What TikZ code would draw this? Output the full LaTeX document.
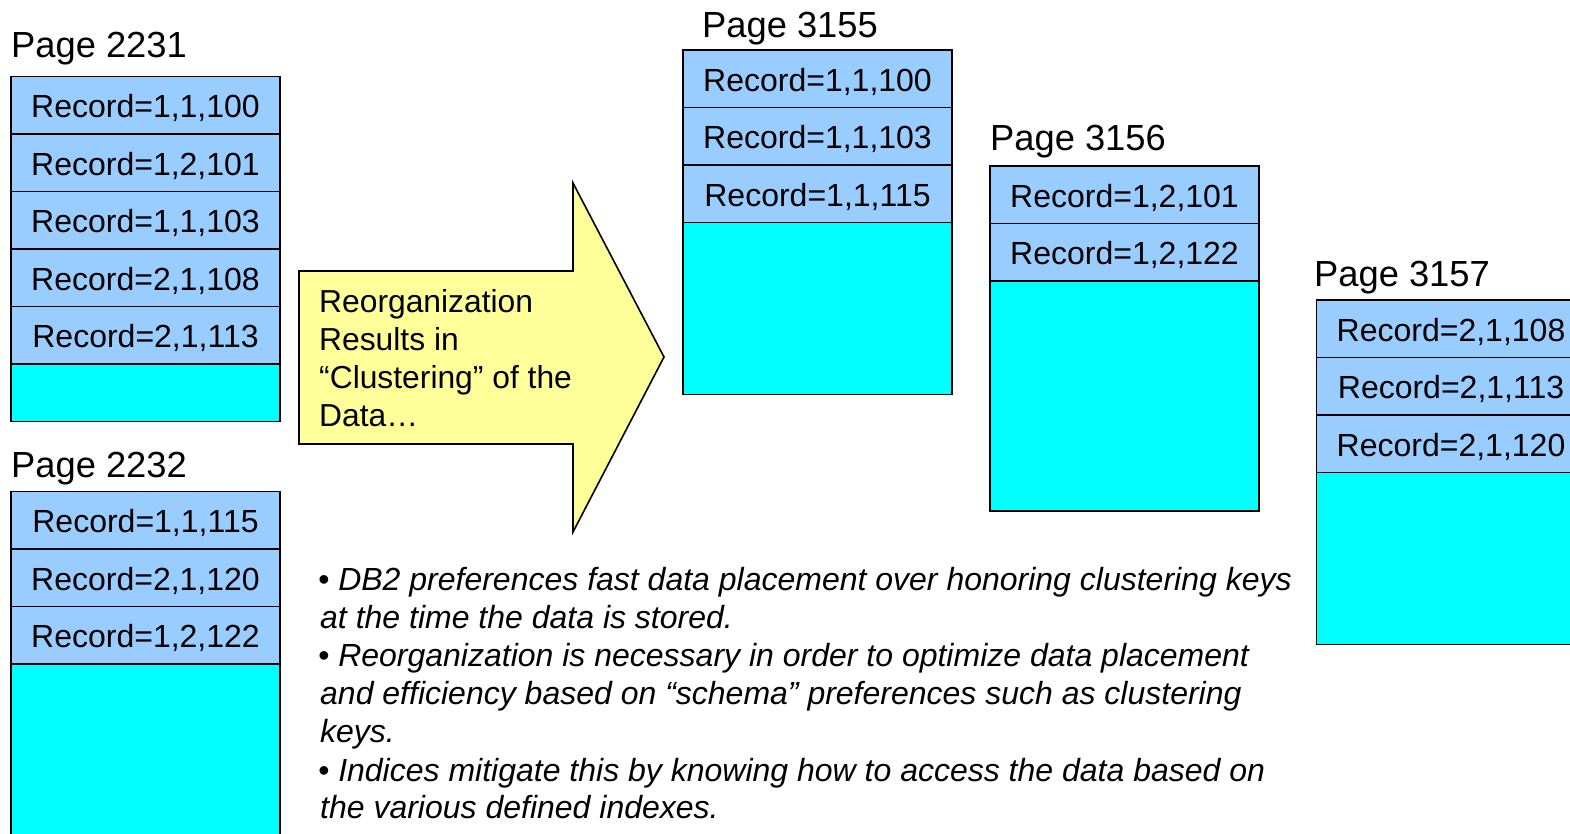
\documentclass[tikz,border=0pt]{standalone}
\usepackage{fontspec}
\setmainfont{Liberation Sans}
\definecolor{recblue}{HTML}{99CCFF}
\definecolor{freecyan}{HTML}{00FFFF}
\definecolor{noteyellow}{HTML}{FFFF99}
\begin{document}
\begin{tikzpicture}[x=1pt,y=-1pt,
  cell/.style={draw=black, line width=1.6pt, minimum width=269pt, minimum height=57.5pt,
    inner sep=0pt, outer sep=0pt, anchor=north west, font=\fontsize{32}{36}\selectfont,
    text height=25pt, text depth=0pt},
  rec/.style={cell, fill=recblue},
  free/.style={cell, fill=freecyan},
  pagetitle/.style={anchor=base west, inner sep=0pt, font=\fontsize{36.3}{40}\selectfont},
  arrowtext/.style={anchor=base west, inner sep=0pt, font=\fontsize{31.8}{36}\selectfont},
  note/.style={anchor=base west, inner sep=0pt, font=\fontsize{32}{36}\selectfont\itshape}]
\useasboundingbox (0,0) rectangle (1570,834);
\clip (0,0) rectangle (1570,834);

% Page 2231
\node[pagetitle] (t2231) at (11,57.7) {Page 2231};
\node[rec] (a1) at (11,76.5) {Record=1,1,100};
\node[rec] (a2) at (a1.south west) {Record=1,2,101};
\node[rec] (a3) at (a2.south west) {Record=1,1,103};
\node[rec] (a4) at (a3.south west) {Record=2,1,108};
\node[rec] (a5) at (a4.south west) {Record=2,1,113};
\node[free] (a6) at (a5.south west) {};

% Page 2232
\node[pagetitle] (t2232) at (11,477.7) {Page 2232};
\node[rec] (b1) at (11,491.5) {Record=1,1,115};
\node[rec] (b2) at (b1.south west) {Record=2,1,120};
\node[rec] (b3) at (b2.south west) {Record=1,2,122};
\node[free, minimum height=230pt] (b4) at (b3.south west) {};

% Reorganization arrow
\draw[line width=1.6pt, fill=noteyellow, line join=miter]
  (299,271) -- (573,271) -- (573,183) -- (664,357) -- (573,532) -- (573,444) -- (299,444) -- cycle;
\node[arrowtext] (r1) at (319,312) {Reorganization};
\node[arrowtext] (r2) at (319,350) {Results in};
\node[arrowtext] (r3) at (319,388) {“Clustering” of the};
\node[arrowtext] (r4) at (319,426) {Data…};

% Page 3155
\node[pagetitle] (t3155) at (702,37.3) {Page 3155};
\node[rec] (c1) at (683,50) {Record=1,1,100};
\node[rec] (c2) at (c1.south west) {Record=1,1,103};
\node[rec] (c3) at (c2.south west) {Record=1,1,115};
\node[free, minimum height=172pt] (c4) at (c3.south west) {};

% Page 3156
\node[pagetitle] (t3156) at (990,151) {Page 3156};
\node[rec] (d1) at (990,166) {Record=1,2,101};
\node[rec] (d2) at (d1.south west) {Record=1,2,122};
\node[free, minimum height=230pt] (d3) at (d2.south west) {};

% Page 3157
\node[pagetitle] (t3157) at (1314,286.7) {Page 3157};
\node[rec] (e1) at (1316.5,300) {Record=2,1,108};
\node[rec] (e2) at (e1.south west) {Record=2,1,113};
\node[rec] (e3) at (e2.south west) {Record=2,1,120};
\node[free, minimum height=172pt] (e4) at (e3.south west) {};

% Notes
\node[note] (n1) at (318,590) {• DB2 preferences fast data placement over honoring clustering keys};
\node[note] (n2) at (320,628) {at the time the data is stored.};
\node[note] (n3) at (318,666) {• Reorganization is necessary in order to optimize data placement};
\node[note] (n4) at (320,704) {and efficiency based on “schema” preferences such as clustering};
\node[note] (n5) at (320,742) {keys.};
\node[note] (n6) at (318,781) {• Indices mitigate this by knowing how to access the data based on};
\node[note] (n7) at (320,818) {the various defined indexes.};
\end{tikzpicture}
\end{document}
